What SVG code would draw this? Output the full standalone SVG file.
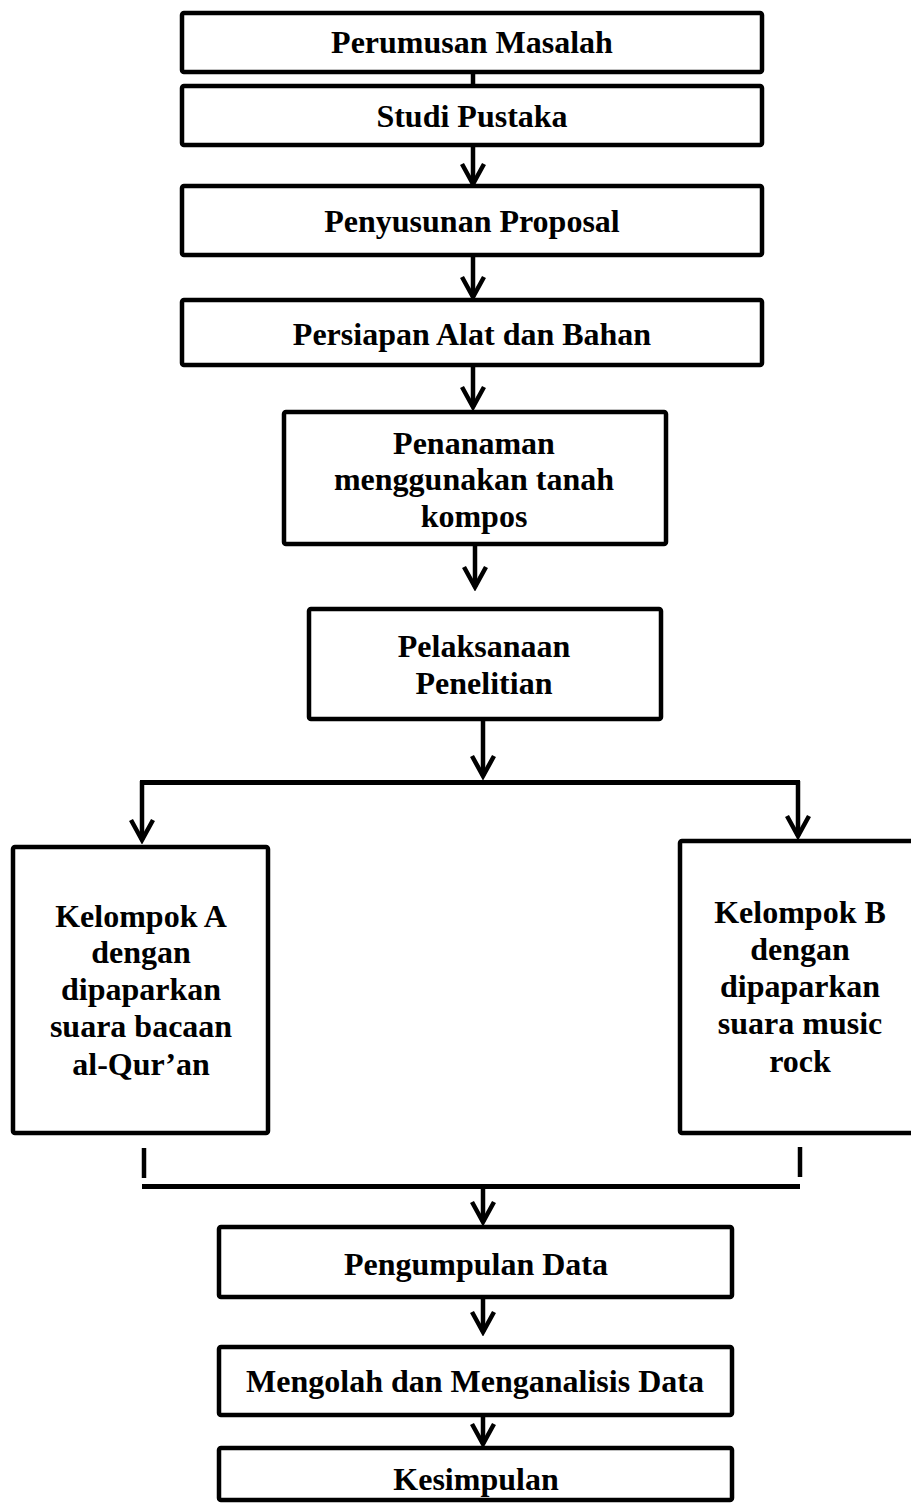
<svg xmlns="http://www.w3.org/2000/svg" width="911" height="1504" viewBox="0 0 911 1504">
<style>
.box{fill:#fff;stroke:#000;stroke-width:4.5;stroke-linejoin:round}
.t{font-family:"Liberation Serif","Times New Roman",serif;font-weight:bold;font-size:32px;fill:#000;text-anchor:middle}
.ln{fill:none;stroke:#000;stroke-width:4.5;stroke-linecap:butt}
.ar{fill:none;stroke:#000;stroke-width:4.5;marker-end:url(#v)}
</style>
<defs>
<marker id="v" markerUnits="userSpaceOnUse" viewBox="-26 -16 30 32" refX="0" refY="0" markerWidth="30" markerHeight="32" orient="auto">
<path d="M-20,-11 L0,0 L-20,11" fill="none" stroke="#000" stroke-width="4.5" stroke-linejoin="miter"/>
</marker>
</defs>
<rect width="911" height="1504" fill="#fff"/>
<g id="connectors">
<line class="ln" x1="473" y1="72" x2="473" y2="86"/>
<line class="ar" x1="473" y1="146" x2="473" y2="184"/>
<line class="ar" x1="473" y1="256" x2="473" y2="297"/>
<line class="ar" x1="473" y1="366" x2="473" y2="407"/>
<line class="ar" x1="475" y1="545" x2="475" y2="587"/>
<line class="ar" x1="483" y1="720" x2="483" y2="776"/>
<line class="ln" x1="140" y1="782.5" x2="800" y2="782.5" style="stroke-width:5"/>
<line class="ar" x1="142" y1="781" x2="142" y2="840"/>
<line class="ar" x1="798" y1="781" x2="798" y2="836"/>
<line class="ln" x1="144" y1="1148" x2="144" y2="1178"/>
<line class="ln" x1="800" y1="1147" x2="800" y2="1177"/>
<line class="ln" x1="142" y1="1186.5" x2="800" y2="1186.5" style="stroke-width:5"/>
<line class="ar" x1="483" y1="1188" x2="483" y2="1222"/>
<line class="ar" x1="483" y1="1298" x2="483" y2="1332"/>
<line class="ar" x1="483" y1="1416" x2="483" y2="1444"/>
</g>
<g id="n1"><rect class="box" x="182" y="13" width="580" height="59" rx="2"/><text class="t" x="472" y="53">Perumusan Masalah</text></g>
<g id="n2"><rect class="box" x="182" y="86" width="580" height="59" rx="2"/><text class="t" x="472" y="127">Studi Pustaka</text></g>
<g id="n3"><rect class="box" x="182" y="186" width="580" height="69" rx="2"/><text class="t" x="472" y="232">Penyusunan Proposal</text></g>
<g id="n4"><rect class="box" x="182" y="300" width="580" height="65" rx="2"/><text class="t" x="472" y="345">Persiapan Alat dan Bahan</text></g>
<g id="n5"><rect class="box" x="284" y="412" width="382" height="132" rx="2"/><text class="t" x="474" y="454">Penanaman</text><text class="t" x="474" y="490">menggunakan tanah</text><text class="t" x="474" y="527">kompos</text></g>
<g id="n6"><rect class="box" x="309" y="609" width="352" height="110" rx="2"/><text class="t" x="484" y="657">Pelaksanaan</text><text class="t" x="484" y="694">Penelitian</text></g>
<g id="n7"><rect class="box" x="13" y="847" width="255" height="286" rx="2"/><text class="t" x="141" y="927">Kelompok A</text><text class="t" x="141" y="963">dengan</text><text class="t" x="141" y="1000">dipaparkan</text><text class="t" x="141" y="1037">suara bacaan</text><text class="t" x="141" y="1075">al-Qur’an</text></g>
<g id="n8"><rect class="box" x="680" y="841" width="240" height="292" rx="2"/><text class="t" x="800" y="923">Kelompok B</text><text class="t" x="800" y="960">dengan</text><text class="t" x="800" y="997">dipaparkan</text><text class="t" x="800" y="1034">suara music</text><text class="t" x="800" y="1072">rock</text></g>
<g id="n9"><rect class="box" x="219" y="1227" width="513" height="70" rx="2"/><text class="t" x="476" y="1275">Pengumpulan Data</text></g>
<g id="n10"><rect class="box" x="219" y="1347" width="513" height="68" rx="2"/><text class="t" x="475" y="1392">Mengolah dan Menganalisis Data</text></g>
<g id="n11"><rect class="box" x="219" y="1448" width="513" height="52" rx="2"/><text class="t" x="476" y="1490">Kesimpulan</text></g>
</svg>
